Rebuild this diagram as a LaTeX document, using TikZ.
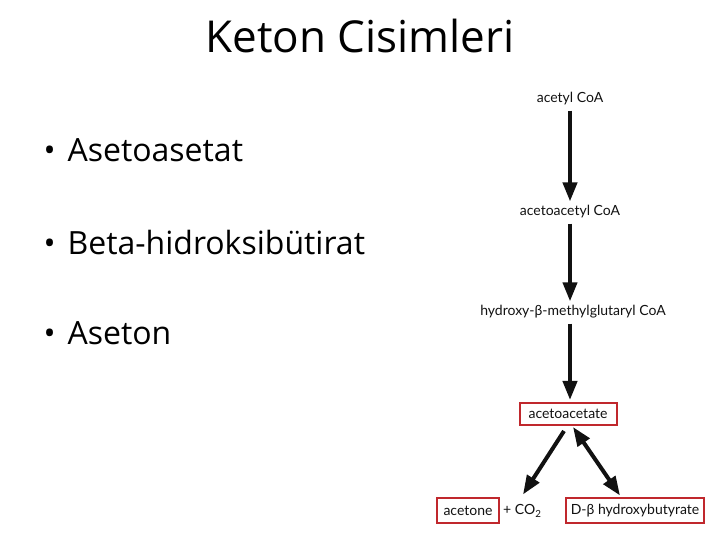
\documentclass[tikz,border=0pt]{standalone}
\usepackage{fontspec}
\setmainfont{Open Sans}
\newfontfamily\chemfont{Lato}
\usepackage{tikz}
\usetikzlibrary{arrows.meta, positioning, calc}
\definecolor{boxred}{HTML}{C0282D}
\definecolor{ink}{HTML}{111111}

\tikzset{
  chem/.style={font=\chemfont\fontsize{14}{16}\selectfont, text=ink, inner sep=2pt},
  redbox/.style={chem, draw=boxred, line width=2pt, minimum height=25pt},
  bigarrow/.style={ink, line width=4pt, -{Triangle[length=19pt,width=14pt]}},
  bullet/.style={font=\fontsize{32}{36}\selectfont, anchor=west}
}

\begin{document}
\begin{tikzpicture}[x=1pt, y=1pt]
\useasboundingbox (0,0) rectangle (720,540);

% Title and bullet list
\node[font=\fontsize{44}{50}\selectfont] (title) at (360,504) {Keton Cisimleri};
\node[bullet] (b1) at (40,390) {\textbullet\hspace{12pt}Asetoasetat};
\node[bullet] (b2) at (40,297) {\textbullet\hspace{12pt}Beta-hidroksibütirat};
\node[bullet] (b3) at (40,207) {\textbullet\hspace{12pt}Aseton};

% Ketogenesis pathway
\node[chem] (acetyl) at (570,441) {acetyl CoA};
\node[chem] (acacoa) at (570,328) {acetoacetyl CoA};
\node[chem] (hmg) at (573,228) {hydroxy-β-methylglutaryl CoA};
\node[redbox, minimum width=97pt, minimum height=22pt] (acac) at (568,126) {acetoacetate};
\node[redbox, minimum width=62pt] (acetone) at (468,29) {acetone};
\node[chem, right=1pt of acetone] (co2) {+ CO\textsubscript{2}};
\node[redbox, minimum width=138pt] (dbhb) at (635,29) {D-β hydroxybutyrate};

\draw[bigarrow] ($(acetyl.south)+(0,-3)$) -- ($(acetyl.south |- acacoa.north)+(0,2)$);
\draw[bigarrow] ($(acacoa.south)+(0,-3)$) -- ($(acacoa.south |- hmg.north)+(0,2)$);
\draw[bigarrow] ($(acacoa.south |- hmg.south)+(0,-3)$) -- ($(acacoa.south |- acac.north)+(0,2)$);
\draw[bigarrow] ($(acac.south)+(-4,-5)$) -- ($(acetone.north east)+(23,3)$);
\draw[bigarrow, {Triangle[length=19pt,width=14pt]}-{Triangle[length=19pt,width=14pt]}]
    ($(acac.south)+(5,-1)$) -- ($(dbhb.north)+(-15,2)$);
\end{tikzpicture}
\end{document}
